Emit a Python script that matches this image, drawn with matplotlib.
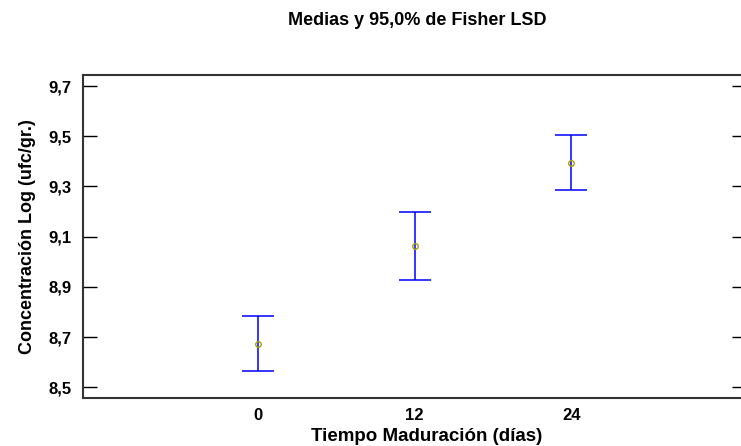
import matplotlib
matplotlib.use("Agg")
import matplotlib.pyplot as plt

plt.rcParams['font.family'] = ['Liberation Sans', 'DejaVu Sans']

dias = [0, 12, 24]
medias = [8.672, 9.062, 9.394]
inferior = [8.563, 8.929, 9.287]
superior = [8.782, 9.199, 9.505]
yticks = [8.5, 8.7, 8.9, 9.1, 9.3, 9.5, 9.7]
yticklabels = ['8,5', '8,7', '8,9', '9,1', '9,3', '9,5', '9,7']

fig = plt.figure(figsize=(7.41, 4.46), dpi=100)
ax = fig.add_axes([0.112, 0.1076, 0.895, 0.7242])

for x, m, lo, hi in zip(dias, medias, inferior, superior):
    ax.errorbar([x], [m], yerr=[[m - lo], [hi - m]], fmt='none', ecolor='#0000ff',
                elinewidth=1.1, capsize=11.5, capthick=1.1)
    ax.plot([x], [m], marker='o', markersize=4, markerfacecolor='none',
            markeredgecolor='#a8a000', markeredgewidth=1.0, linestyle='none')

ax.set_xlim(-13.4, 37.4)
ax.set_ylim(8.457, 9.744)
ax.set_xticks(dias)
ax.set_xticklabels([str(d) for d in dias], fontsize=12, fontweight='bold')
ax.set_yticks(yticks)
ax.set_yticklabels(yticklabels, fontsize=12, fontweight='bold')
ax.tick_params(axis='x', length=0, pad=7)
ax.tick_params(axis='y', direction='in', length=10, width=1, left=True, right=True, pad=8)
for s in ax.spines.values():
    s.set_linewidth(1.5)
    s.set_color('#333333')

ax.set_xlabel('Tiempo Maduración (días)', fontsize=13.5, fontweight='bold', labelpad=4)
ax.xaxis.label.set_x(0.518)
ax.set_ylabel('Concentración Log (ufc/gr.)', fontsize=13, fontweight='bold', labelpad=9)
fig.text(0.563, 0.953, 'Medias y 95,0% de Fisher LSD', ha='center', va='center',
         fontsize=13, fontweight='bold')

fig.savefig('out.png', dpi=100)
